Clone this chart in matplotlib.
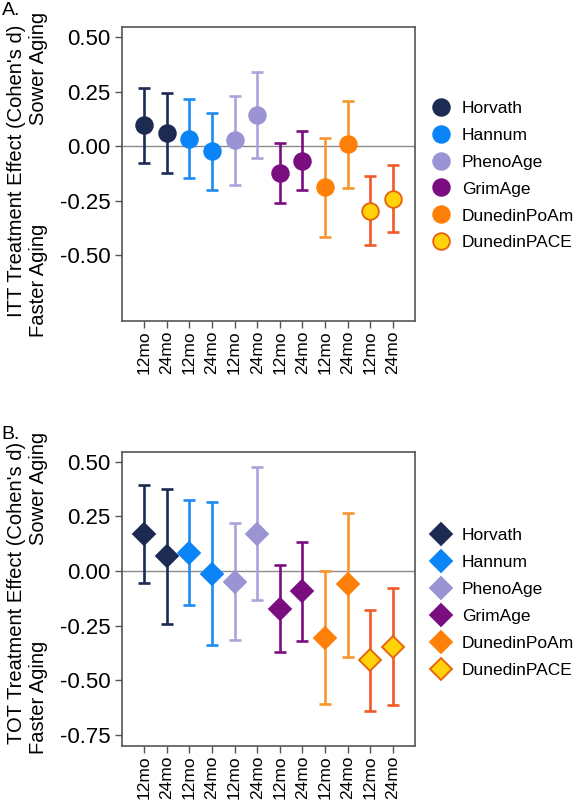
import numpy as np
import matplotlib
matplotlib.use("Agg")
import matplotlib.pyplot as plt
from matplotlib.lines import Line2D

plt.rcParams["font.family"] = ["Liberation Sans", "DejaVu Sans"]

clocks = ["Horvath", "Hannum", "PhenoAge", "GrimAge", "DunedinPoAm", "DunedinPACE"]
tick_labels = ["12mo", "24mo"] * 6

# ITT effects (panel A): estimate, lower CI, upper CI
itt_est = [0.099, 0.061, 0.035, -0.024, 0.027, 0.143, -0.123, -0.067, -0.189, 0.008, -0.295, -0.242]
itt_lo = [-0.075, -0.125, -0.145, -0.201, -0.178, -0.053, -0.262, -0.202, -0.414, -0.192, -0.452, -0.394]
itt_hi = [0.268, 0.243, 0.215, 0.151, 0.231, 0.342, 0.015, 0.070, 0.037, 0.205, -0.137, -0.087]

# TOT effects (panel B)
tot_est = [0.169, 0.067, 0.082, -0.014, -0.050, 0.172, -0.174, -0.093, -0.305, -0.060, -0.406, -0.345]
tot_lo = [-0.053, -0.240, -0.156, -0.340, -0.317, -0.130, -0.371, -0.319, -0.607, -0.391, -0.640, -0.611]
tot_hi = [0.394, 0.375, 0.325, 0.314, 0.218, 0.478, 0.029, 0.134, 0.000, 0.267, -0.180, -0.078]

# per clock: marker fill, marker edge, errorbar colour
fill_colors = ["#1d2b52", "#0a84f7", "#9a94d4", "#7a0e80", "#ff8008", "#ffd20a"]
edge_colors = ["#1d2b52", "#0a84f7", "#9a94d4", "#7a0e80", "#ff8008", "#e8600c"]
bar_colors = ["#1d2b52", "#1b8cf2", "#a9a4da", "#7a0e80", "#f7962c", "#f05a24"]


def draw_panel(ax, est, lo, hi, marker, msize, ticks):
    x = np.arange(1, 13)
    ax.axhline(0, color="#8a8a8a", lw=1.0, zorder=1)
    for i in range(12):
        c = i // 2
        ax.errorbar(
            x[i], est[i],
            yerr=[[est[i] - lo[i]], [hi[i] - est[i]]],
            fmt="none", ecolor=bar_colors[c], elinewidth=1.9,
            capsize=4, capthick=1.9, zorder=2,
        )
        ax.plot(
            x[i], est[i], marker=marker, ms=msize,
            mfc=fill_colors[c], mec=edge_colors[c], mew=1.3,
            ls="none", zorder=3,
        )
    ax.set_xlim(0.03, 12.97)
    ax.set_ylim(-0.80, 0.545)
    ax.set_xticks(x)
    ax.set_xticklabels(tick_labels, rotation=90, fontsize=12.5)
    ax.set_yticks(ticks)
    ax.set_yticklabels([f"{t:.2f}" for t in ticks], fontsize=16)
    ax.tick_params(direction="out", length=5, width=1.0, color="#555555")
    ax.tick_params(axis="y", pad=3)
    ax.tick_params(axis="x", pad=2)
    for s in ax.spines.values():
        s.set_color("#555555")
        s.set_linewidth(1.2)

    handles = [
        Line2D([], [], marker=marker, ms=msize, mfc=fill_colors[c],
               mec=edge_colors[c], mew=1.3, ls="none")
        for c in range(6)
    ]
    return handles


fig = plt.figure(figsize=(5.74, 8.0), dpi=100)

axA = fig.add_axes([0.2125, 0.599, 0.5105, 0.367])
hA = draw_panel(axA, itt_est, itt_lo, itt_hi, "o", 12,
                [0.5, 0.25, 0.0, -0.25, -0.5])
fig.legend(hA, clocks, loc="upper left", bbox_to_anchor=(0.738, 0.883),
           frameon=False, fontsize=12.5, labelspacing=0.68, handletextpad=0.6,
           borderaxespad=0, handlelength=1.2)

axB = fig.add_axes([0.2125, 0.0675, 0.5105, 0.3675])
hB = draw_panel(axB, tot_est, tot_lo, tot_hi, "D", 11.5,
                [0.5, 0.25, 0.0, -0.25, -0.5, -0.75])
fig.legend(hB, clocks, loc="upper left", bbox_to_anchor=(0.738, 0.349),
           frameon=False, fontsize=12.5, labelspacing=0.68, handletextpad=0.6,
           borderaxespad=0, handlelength=1.2)

# y labels (two columns each)
lab_kw = dict(rotation=90, fontsize=14.5, ha="center", va="center")
fig.text(0.029, 1 - 171 / 800, "ITT Treatment Effect (Cohen's d)", **lab_kw)
fig.text(0.067, 1 - 68 / 800, "Sower Aging", **lab_kw)
fig.text(0.067, 1 - 280 / 800, "Faster Aging", **lab_kw)

fig.text(0.029, 1 - 593 / 800, "TOT Treatment Effect (Cohen's d)", **lab_kw)
fig.text(0.067, 1 - 488 / 800, "Sower Aging", **lab_kw)
fig.text(0.067, 1 - 697 / 800, "Faster Aging", **lab_kw)

fig.text(0.003, 0.998, "A.", fontsize=14, ha="left", va="top")
fig.text(0.003, 0.468, "B.", fontsize=14, ha="left", va="top")

fig.savefig("out.png", dpi=100)
